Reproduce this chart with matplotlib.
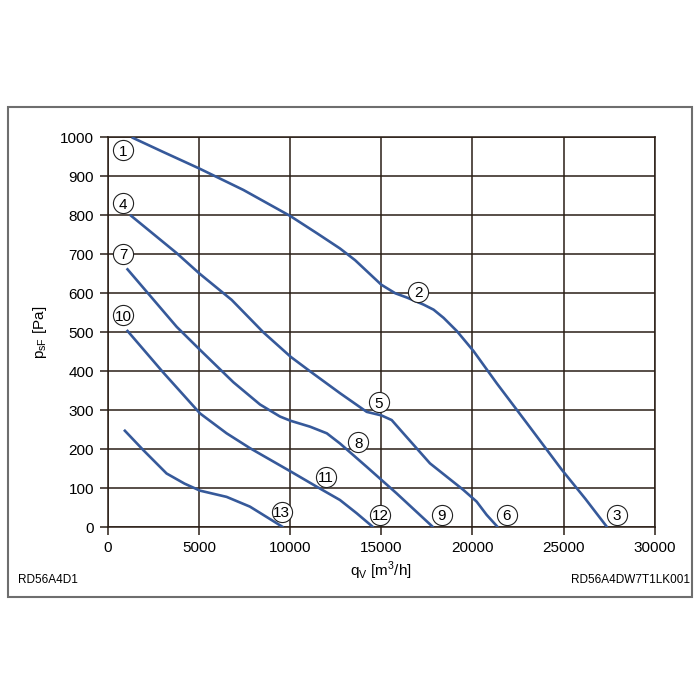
import matplotlib
matplotlib.use("Agg")
import matplotlib.pyplot as plt
from matplotlib.patches import Rectangle

plt.rcParams['font.family'] = ['Liberation Sans', 'DejaVu Sans']

# characteristic curves (q_V in m3/h, p_sF in Pa)
q_a = [1300, 3000, 5010, 7430, 10010, 11500, 12730, 13560, 15000, 15770, 16410,
       17320, 17870, 18420, 19150, 20060, 21340, 22990, 24900, 26200, 27400]
p_a = [1000, 963, 920, 865, 798, 753, 715, 685, 622, 600, 589,
       571, 558, 537, 503, 452, 369, 267, 148, 73, 0]

q_b = [1210, 3770, 5010, 6790, 8525, 10030, 11090, 12730, 14200, 15000, 15570,
       16210, 17670, 19500, 20230, 20780, 21400]
p_b = [801, 703, 651, 583, 500, 437, 400, 344, 296, 287, 275,
       241, 164, 96, 66, 32, 0]

q_c = [1025, 3770, 5050, 6880, 8340, 9440, 10030, 11090, 12010, 12730, 14200, 15840, 17850]
p_c = [664, 514, 455, 372, 315, 284, 273, 258, 241, 215, 155, 87, 0]

q_d = [1025, 3030, 5050, 6510, 7790, 10030, 11460, 12730, 13650, 14560]
p_d = [506, 397, 292, 241, 203, 143, 104, 70, 36, 0]

q_e = [877, 1935, 3215, 4200, 5050, 6510, 7790, 9620]
p_e = [250, 198, 138, 112, 94, 78, 53, 0]

curves = [(q_a, p_a), (q_b, p_b), (q_c, p_c), (q_d, p_d), (q_e, p_e)]

# circled point numbers
lab_txt = ["1", "2", "3", "4", "5", "6", "7", "8", "9", "10", "11", "12", "13"]
lab_q = [840, 17030, 27940, 840, 14870, 21880, 840, 13740, 18310, 840, 11960, 14930, 9530]
lab_p = [967, 604, 32, 831, 320, 32, 701, 218, 32, 544, 130, 32, 40]

xticks = [0, 5000, 10000, 15000, 20000, 25000, 30000]
yticks = [0, 100, 200, 300, 400, 500, 600, 700, 800, 900, 1000]

grid_col = "#2a1e16"
line_col = "#36599a"

fig = plt.figure(figsize=(7, 7), dpi=100)
fig.patches.append(Rectangle((8 / 700, 1 - 597 / 700), 684 / 700, 490 / 700,
                             transform=fig.transFigure, fill=False,
                             edgecolor="#6e6e6e", linewidth=1.5))

ax = fig.add_axes([108 / 700, 1 - 527.3 / 700, 546.6 / 700, 390 / 700])
for q, p in curves:
    ax.plot(q, p, color=line_col, lw=1.9, solid_capstyle="butt",
            solid_joinstyle="round", zorder=3)

ax.scatter(lab_q, lab_p, s=210, facecolor="white", edgecolor="#222222",
           linewidths=0.8, zorder=4)
for t, x, y in zip(lab_txt, lab_q, lab_p):
    ax.text(x, y, t, ha="center", va="center_baseline", fontsize=11, zorder=5)

ax.set_xlim(0, 30000)
ax.set_ylim(0, 1000)
ax.set_xticks(xticks)
ax.set_yticks(yticks)
ax.grid(True, color=grid_col, lw=1.1)
ax.set_axisbelow(True)
for s in ax.spines.values():
    s.set_color(grid_col)
    s.set_linewidth(1.1)
ax.tick_params(direction="out", length=6, width=1.1, color=grid_col,
               labelsize=11, pad=4)

ax.set_xlabel("q$_\\mathregular{V}$ [m$^\\mathregular{3}$/h]", fontsize=11, labelpad=3)
ax.set_ylabel("p$_\\mathregular{sF}$ [Pa]", fontsize=11, labelpad=8)

fig.text(18 / 700, 1 - 580 / 700, "RD56A4D1", ha="left", va="center", fontsize=8.5)
fig.text(690 / 700, 1 - 580 / 700, "RD56A4DW7T1LK001", ha="right", va="center", fontsize=8.5)

fig.savefig("out.png", dpi=100)
